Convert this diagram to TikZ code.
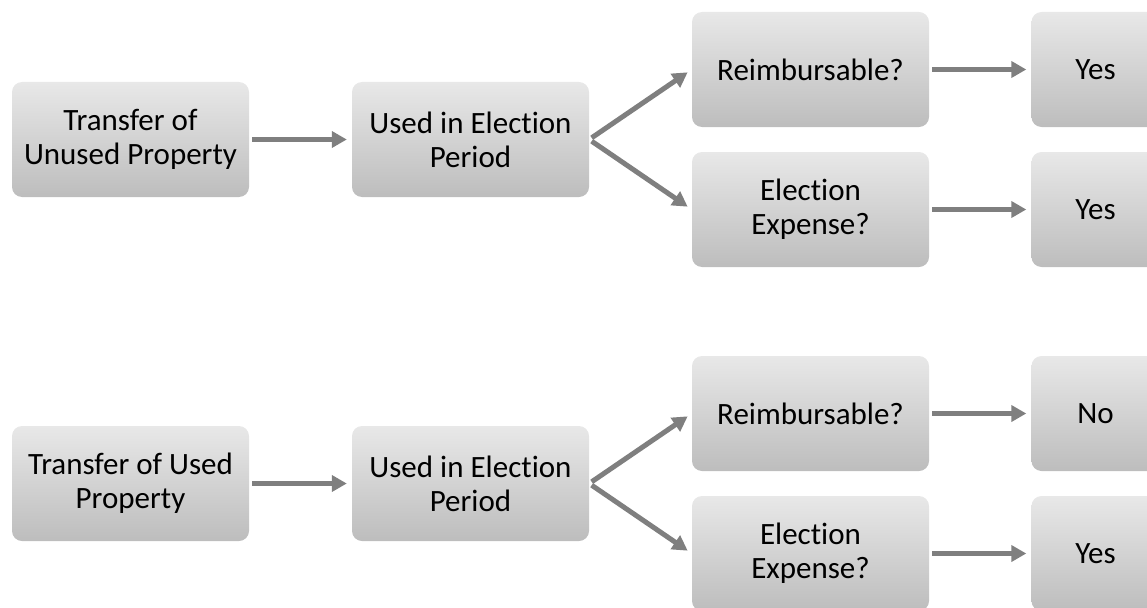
\documentclass[tikz,border=0pt]{standalone}
\usepackage{fontspec}
\setmainfont{Carlito}[RawFeature={-liga;-dlig}]
\usetikzlibrary{arrows.meta}
\definecolor{boxtop}{HTML}{E8E8E8}
\definecolor{boxbottom}{HTML}{BDBDBD}
\definecolor{flowgray}{HTML}{7F7F7F}
\tikzset{
  stage/.style={rectangle, rounded corners=10pt, top color=boxtop, bottom color=boxbottom,
    minimum width=237pt, minimum height=115pt, inner sep=0pt, align=center,
    font=\fontsize{31pt}{34pt}\selectfont},
  answer/.style={stage, minimum width=128pt},
  flow/.style={draw=flowgray, line width=5pt, -{Triangle[length=15pt,width=16pt]},
    shorten <=3pt, shorten >=5pt}
}
\begin{document}
\begin{tikzpicture}[x=1pt,y=-1pt]
\useasboundingbox (0,0) rectangle (1147,607);
\clip (0,0) rectangle (1147,607);

% unused property
\node[stage] (u1) at (130.5,139.5) {Transfer of\\Unused Property};
\node[stage] (u2) at (470.5,139.5) {Used in Election\\Period};
\node[stage] (u3) at (810.5,69.5) {Reimbursable?};
\node[stage] (u4) at (810.5,209.5) {Election\\Expense?};
\node[answer] (u5) at (1095.5,69.5) {Yes};
\node[answer] (u6) at (1095.5,209.5) {Yes};

\path[flow] (u1) -- (u2);
\path[flow] (u2.east) -- (u3.west);
\path[flow] (u2.east) -- (u4.west);
\path[flow] (u3) -- (u5);
\path[flow] (u4) -- (u6);

% used property
\node[stage] (s1) at (130.5,483.5) {Transfer of Used\\Property};
\node[stage] (s2) at (470.5,483.5) {Used in Election\\Period};
\node[stage] (s3) at (810.5,413.5) {Reimbursable?};
\node[stage] (s4) at (810.5,553.5) {Election\\Expense?};
\node[answer] (s5) at (1095.5,413.5) {No};
\node[answer] (s6) at (1095.5,553.5) {Yes};

\path[flow] (s1) -- (s2);
\path[flow] (s2.east) -- (s3.west);
\path[flow] (s2.east) -- (s4.west);
\path[flow] (s3) -- (s5);
\path[flow] (s4) -- (s6);
\end{tikzpicture}
\end{document}
